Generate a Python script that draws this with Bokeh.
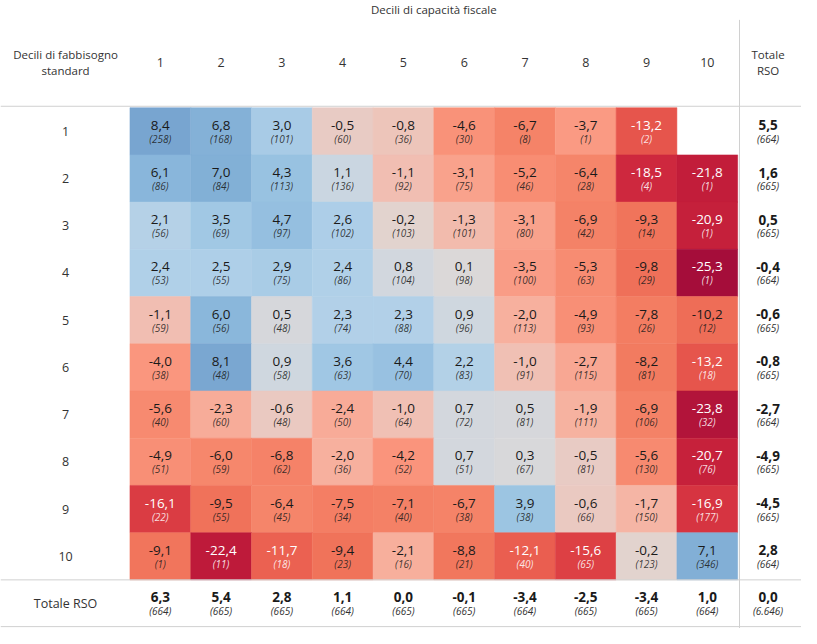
from bokeh.plotting import figure
from bokeh.models import ColumnDataSource, Range1d
from bokeh.core.properties import value
from bokeh.embed import file_html
from bokeh.resources import INLINE

# ---- data ----
col_labels = ["1", "2", "3", "4", "5", "6", "7", "8", "9", "10"]
row_labels = ["1", "2", "3", "4", "5", "6", "7", "8", "9", "10"]

values = [
    [8.4, 6.8, 3.0, -0.5, -0.8, -4.6, -6.7, -3.7, -13.2, None],
    [6.1, 7.0, 4.3, 1.1, -1.1, -3.1, -5.2, -6.4, -18.5, -21.8],
    [2.1, 3.5, 4.7, 2.6, -0.2, -1.3, -3.1, -6.9, -9.3, -20.9],
    [2.4, 2.5, 2.9, 2.4, 0.8, 0.1, -3.5, -5.3, -9.8, -25.3],
    [-1.1, 6.0, 0.5, 2.3, 2.3, 0.9, -2.0, -4.9, -7.8, -10.2],
    [-4.0, 8.1, 0.9, 3.6, 4.4, 2.2, -1.0, -2.7, -8.2, -13.2],
    [-5.6, -2.3, -0.6, -2.4, -1.0, 0.7, 0.5, -1.9, -6.9, -23.8],
    [-4.9, -6.0, -6.8, -2.0, -4.2, 0.7, 0.3, -0.5, -5.6, -20.7],
    [-16.1, -9.5, -6.4, -7.5, -7.1, -6.7, 3.9, -0.6, -1.7, -16.9],
    [-9.1, -22.4, -11.7, -9.4, -2.1, -8.8, -12.1, -15.6, -0.2, 7.1],
]
counts = [
    [258, 168, 101, 60, 36, 30, 8, 1, 2, None],
    [86, 84, 113, 136, 92, 75, 46, 28, 4, 1],
    [56, 69, 97, 102, 103, 101, 80, 42, 14, 1],
    [53, 55, 75, 86, 104, 98, 100, 63, 29, 1],
    [59, 56, 48, 74, 88, 96, 113, 93, 26, 12],
    [38, 48, 58, 63, 70, 83, 91, 115, 81, 18],
    [40, 60, 48, 50, 64, 72, 81, 111, 106, 32],
    [51, 59, 62, 36, 52, 51, 67, 81, 130, 76],
    [22, 55, 45, 34, 40, 38, 38, 66, 150, 177],
    [1, 11, 18, 23, 16, 21, 40, 65, 123, 346],
]
row_tot_values = [5.5, 1.6, 0.5, -0.4, -0.6, -0.8, -2.7, -4.9, -4.5, 2.8]
row_tot_counts = ["664", "665", "665", "664", "665", "665", "664", "665", "665", "664"]
col_tot_values = [6.3, 5.4, 2.8, 1.1, 0.0, -0.1, -3.4, -2.5, -3.4, 1.0]
col_tot_counts = ["664", "665", "665", "664", "665", "665", "664", "665", "665", "664"]
grand_value = 0.0
grand_count = "6.646"

title = "Decili di capacità fiscale"
row_header = ["Decili di fabbisogno", "standard"]
tot_header = ["Totale", "RSO"]
tot_row_label = "Totale RSO"

# ---- colour scale (diverging red - grey - blue) ----
anchors = [
    (-25.3, (165, 13, 58)),
    (-22.0, (193, 28, 58)),
    (-18.0, (208, 42, 62)),
    (-15.0, (224, 70, 70)),
    (-12.0, (234, 95, 80)),
    (-9.0, (241, 118, 92)),
    (-6.0, (246, 135, 108)),
    (-4.0, (250, 150, 126)),
    (-2.0, (247, 176, 158)),
    (-1.0, (240, 192, 180)),
    (-0.3, (229, 208, 202)),
    (0.0, (220, 216, 215)),
    (0.8, (210, 215, 222)),
    (1.5, (192, 213, 230)),
    (2.5, (174, 207, 232)),
    (4.0, (155, 196, 226)),
    (6.0, (138, 183, 219)),
    (8.4, (120, 165, 208)),
]


def colour(v):
    if v <= anchors[0][0]:
        c = anchors[0][1]
    elif v >= anchors[-1][0]:
        c = anchors[-1][1]
    else:
        for (a, ca), (b, cb) in zip(anchors[:-1], anchors[1:]):
            if a <= v <= b:
                t = (v - a) / (b - a)
                c = tuple(ca[k] + (cb[k] - ca[k]) * t for k in range(3))
                break
    return "#%02x%02x%02x" % tuple(int(round(x)) for x in c)


def fmt(v):
    return ("%.1f" % v).replace(".", ",")


# ---- build cell table ----
xs, ys, fills, vtxt, ctxt, tcol = [], [], [], [], [], []
for r in range(10):
    for c in range(10):
        v = values[r][c]
        if v is None:
            continue
        xs.append(c + 1)
        ys.append(r + 1)
        fills.append(colour(v))
        vtxt.append(fmt(v))
        ctxt.append("(%d)" % counts[r][c])
        tcol.append("#ffffff" if v < -11 else "#1a1a1a")
cells = ColumnDataSource(dict(x=xs, y=ys, fill=fills, v=vtxt, n=ctxt, tc=tcol))

# totals
tx = [11] * 10 + list(range(1, 11)) + [11]
ty = list(range(1, 11)) + [11] * 10 + [11]
tv = [fmt(v) for v in row_tot_values] + [fmt(v) for v in col_tot_values] + [fmt(grand_value)]
tn = ["(%s)" % n for n in row_tot_counts] + ["(%s)" % n for n in col_tot_counts] + ["(%s)" % grand_count]
totals = ColumnDataSource(dict(x=tx, y=ty, v=tv, n=tn))

FONT = "Open Sans"
LAB = -0.56  # label column centre

p = figure(width=801, height=628, x_range=Range1d(-1.63, 11.55),
           y_range=Range1d(11.53, -1.77), output_backend="svg",
           toolbar_location=None, min_border=0)
p.axis.visible = False
p.grid.visible = False
p.outline_line_color = None
p.background_fill_color = "white"

p.rect(x="x", y="y", width=1, height=1, source=cells, fill_color="fill",
       line_color="fill", line_width=0.5)

p.text(x="x", y="y", text="v", source=cells, text_color="tc",
       text_font=value(FONT), text_font_size="13.5px", text_align="center",
       text_baseline="middle", y_offset=-6)
p.text(x="x", y="y", text="n", source=cells, text_color="tc", text_alpha=0.85,
       text_font=value(FONT), text_font_size="10px", text_font_style="italic",
       text_align="center", text_baseline="middle", y_offset=7.5)

p.text(x="x", y="y", text="v", source=totals, text_color="#1a1a1a",
       text_font=value(FONT), text_font_size="13.5px", text_font_style="bold",
       text_align="center", text_baseline="middle", y_offset=-6)
p.text(x="x", y="y", text="n", source=totals, text_color="#333333",
       text_font=value(FONT), text_font_size="10px", text_font_style="italic",
       text_align="center", text_baseline="middle", y_offset=7.5)

# row labels
p.text(x=[LAB] * 10, y=list(range(1, 11)), text=row_labels, text_color="#333333",
       text_font=value(FONT), text_font_size="12.5px", text_align="center",
       text_baseline="middle")
p.text(x=[LAB], y=[11], text=[tot_row_label], text_color="#333333",
       text_font=value(FONT), text_font_size="12.5px", text_align="center",
       text_baseline="middle")
# column labels
p.text(x=list(range(1, 11)), y=[-0.45] * 10, text=col_labels, text_color="#333333",
       text_font=value(FONT), text_font_size="12.5px", text_align="center",
       text_baseline="middle")
# header texts
p.text(x=[LAB, LAB], y=[-0.45, -0.45], text=row_header, text_color="#333333",
       text_font=value(FONT), text_font_size="11.5px", text_align="center",
       text_baseline="middle", y_offset=[-8, 8])
p.text(x=[11, 11], y=[-0.45, -0.45], text=tot_header, text_color="#333333",
       text_font=value(FONT), text_font_size="11.5px", text_align="center",
       text_baseline="middle", y_offset=[-8, 8])
p.text(x=[5.5], y=[-1.57], text=[title], text_color="#333333",
       text_font=value(FONT), text_font_size="11.5px", text_align="center",
       text_baseline="middle")

# separator lines
p.segment(x0=[-1.63, -1.63, -1.63], x1=[11.55, 11.55, 11.55],
          y0=[0.47, 10.5, 11.49], y1=[0.47, 10.5, 11.49],
          line_color="#d0d0d0", line_width=1)
p.segment(x0=[10.53], x1=[10.53], y0=[-1.36], y1=[11.53],
          line_color="#d0d0d0", line_width=1)

open("out.html", "w").write(file_html(p, INLINE))
